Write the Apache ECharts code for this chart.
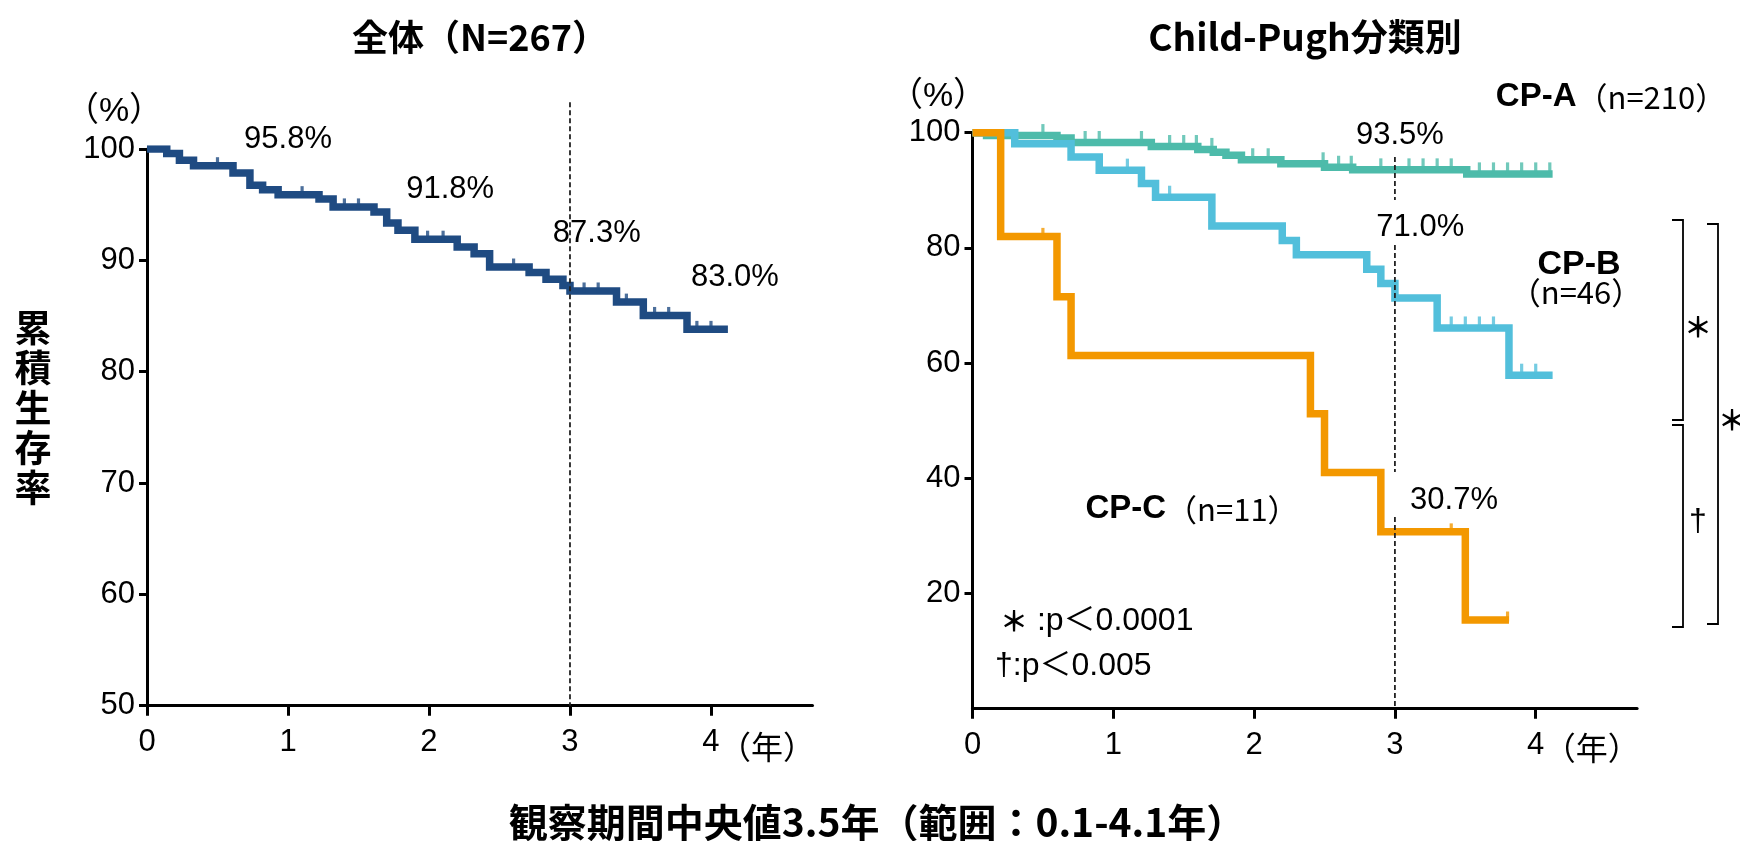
<!DOCTYPE html>
<html><head><meta charset="utf-8">
<script src="https://cdn.jsdelivr.net/npm/echarts@6/dist/echarts.min.js"></script>
<style>html,body{margin:0;padding:0;background:#fff}#c{width:1740px;height:841px}</style>
</head><body><div id="c"></div>
<script>
// ---------- data ----------
const xTicks = [0, 1, 2, 3, 4];
const leftYTicks = [50, 60, 70, 80, 90, 100];
const rightYTicks = [20, 40, 60, 80, 100];

// Overall (N=267)
const allTimes = [0, 0.14, 0.23, 0.33, 0.61, 0.73, 0.82, 0.93, 1.22, 1.32, 1.61, 1.70, 1.78, 1.90, 2.20, 2.32, 2.43, 2.71, 2.83, 2.95, 3.00, 3.33, 3.52, 3.83, 4.12];
const allSurv  = [100, 99.6, 99.0, 98.5, 97.85, 96.75, 96.35, 95.9, 95.5, 94.8, 94.35, 93.35, 92.7, 91.9, 91.2, 90.6, 89.4, 88.9, 88.3, 87.75, 87.25, 86.25, 85.05, 83.8, 83.8];
const allCensor = [0.5, 1.1, 1.4, 1.5, 1.99, 2.1, 2.6, 3.1, 3.2, 3.4, 3.6, 3.7, 3.9, 4.0];
const allLabels = ['95.8%', '91.8%', '87.3%', '83.0%'];

// CP-A (n=210)
const cpaTimes = [0, 0.10, 0.60, 0.70, 1.27, 1.60, 1.71, 1.80, 1.91, 2.19, 2.50, 2.70, 3.51, 4.12];
const cpaSurv  = [100, 99.5, 99.1, 98.3, 97.6, 97.1, 96.6, 96.1, 95.3, 94.6, 94.0, 93.55, 92.85, 92.85];
const cpaCensor = [0.5, 0.8, 0.9, 1.2, 1.4, 1.5, 1.59, 1.7, 1.99, 2.1, 2.49, 2.6, 2.69, 2.9, 3.1, 3.2, 3.3, 3.4, 3.6, 3.7, 3.8, 3.9, 4.0, 4.1];
// CP-B (n=46)
const cpbTimes = [0, 0.30, 0.70, 0.90, 1.20, 1.30, 1.70, 2.20, 2.30, 2.80, 2.90, 3.00, 3.30, 3.81, 4.12];
const cpbSurv  = [100, 98.1, 95.8, 93.5, 91.2, 88.8, 83.8, 81.3, 78.8, 76.3, 73.8, 71.3, 66.1, 57.9, 57.9];
const cpbCensor = [1.1, 1.4, 3.4, 3.5, 3.6, 3.7, 3.9, 4.0];
// CP-C (n=11)
const cpcTimes = [0, 0.20, 0.60, 0.70, 2.40, 2.50, 2.90, 3.50, 3.81];
const cpcSurv  = [100, 82.0, 71.5, 61.3, 51.2, 41.0, 30.7, 15.4, 15.4];
const cpcCensor = [0.5, 3.4, 3.8];
const cpLabels = ['93.5%', '71.0%', '30.7%'];

// ---------- helpers ----------
const NUM = "'Liberation Sans', 'Noto Sans CJK JP', sans-serif";
const NS = 31;
const CJK = "'Noto Sans CJK JP', sans-serif";

function km(times, surv) { return times.map((t, i) => [t, surv[i]]); }
function censorPts(times, surv, cens) {
  return cens.map(c => { let v = surv[0]; for (let i = 0; i < times.length; i++) if (times[i] <= c) v = surv[i]; return [c, v]; });
}
const C_ALL = '#1f4b82', C_A = '#4dbbaa', C_B = '#52bfdb', C_C = '#f39800';
function stepSeries(name, data, color, gi) {
  return { name, type: 'line', step: 'end', data, xAxisIndex: gi, yAxisIndex: gi, symbol: 'none', showSymbol: false,
    lineStyle: { color, width: 7.5, join: 'miter', cap: 'butt' }, animation: false, silent: true, z: 3 };
}
function censorSeries(data, color, gi, h, off) {
  return { type: 'scatter', data, xAxisIndex: gi, yAxisIndex: gi, symbol: 'rect', symbolSize: [3.2, h], symbolOffset: [0, off],
    itemStyle: { color }, animation: false, silent: true, z: 4 };
}
function xAxis(gi) {
  return { gridIndex: gi, type: 'value', min: 0, max: 4.72,
    axisLine: { show: true, onZero: false, lineStyle: { color: '#000', width: 3 } },
    axisTick: { show: true, length: 10, customValues: xTicks, lineStyle: { color: '#000', width: 3 } },
    axisLabel: { customValues: xTicks, fontSize: NS, color: '#000', fontFamily: NUM, margin: 21 },
    splitLine: { show: false } };
}
function yAxis(gi, min, max, interval, ticks) {
  return { gridIndex: gi, type: 'value', min, max, interval,
    axisLine: { show: true, onZero: false, lineStyle: { color: '#000', width: 3 } },
    axisTick: { show: true, length: 8, customValues: ticks, lineStyle: { color: '#000', width: 3 } },
    axisLabel: { customValues: ticks, fontSize: NS, color: '#000', fontFamily: NUM, margin: 12 },
    splitLine: { show: false } };
}

const chart = echarts.init(document.getElementById('c'), null, { renderer: 'canvas' });
chart.setOption({
  backgroundColor: '#fff',
  animation: false,
  grid: [
    { left: 147, top: 149, width: 665.5, height: 556.7 },
    { left: 972.5, top: 132.7, width: 664.6, height: 576 }
  ],
  xAxis: [xAxis(0), xAxis(1)],
  yAxis: [yAxis(0, 50, 100, 10, leftYTicks), yAxis(1, 0, 100, 20, rightYTicks)],
  series: [
    stepSeries('全体', km(allTimes, allSurv), C_ALL, 0),
    censorSeries(censorPts(allTimes, allSurv, allCensor), C_ALL, 0, 10, -3.5),
    stepSeries('CP-A', km(cpaTimes, cpaSurv), C_A, 1),
    censorSeries(censorPts(cpaTimes, cpaSurv, cpaCensor), C_A, 1, 13, -5),
    stepSeries('CP-B', km(cpbTimes, cpbSurv), C_B, 1),
    censorSeries(censorPts(cpbTimes, cpbSurv, cpbCensor), C_B, 1, 13, -5),
    stepSeries('CP-C', km(cpcTimes, cpcSurv), C_C, 1),
    censorSeries(censorPts(cpcTimes, cpcSurv, cpcCensor), C_C, 1, 10, -3.5)
  ]
});

const P0 = (x, y) => chart.convertToPixel({ gridIndex: 0 }, [x, y]);
const P1 = (x, y) => chart.convertToPixel({ gridIndex: 1 }, [x, y]);
function T(pt, text, opt) {
  return { type: 'text', x: pt[0], y: pt[1], z: 10, silent: true,
    style: Object.assign({ text, fill: '#000', align: 'center', verticalAlign: 'middle', fontFamily: NUM, fontSize: NS }, opt || {}) };
}
function dash(a, b) {
  return { type: 'line', z: 5, silent: true, shape: { x1: a[0], y1: a[1], x2: b[0], y2: b[1] },
    style: { stroke: '#222', lineWidth: 1.8, lineDash: [5, 3] } };
}
function bracket(pts) {
  return { type: 'polyline', z: 5, silent: true, shape: { points: pts }, style: { stroke: '#000', lineWidth: 1.8, fill: null } };
}

const g = [];
// titles
g.push(T([480, 37], '全体（N=267）', { fontFamily: CJK, fontWeight: 'bold', fontSize: 36 }));
g.push(T([1305, 37], 'Child-Pugh分類別', { fontFamily: CJK, fontWeight: 'bold', fontSize: 37 }));
g.push(T([33, 408], '累\n積\n生\n存\n率', { fontFamily: CJK, fontWeight: 'bold', fontSize: 37, lineHeight: 40 }));
g.push(T([877, 822], '観察期間中央値3.5年（範囲：0.1-4.1年）', { fontFamily: CJK, fontWeight: 'bold', fontSize: 39 }));
// unit labels
g.push(T([114, 112], '（%）', { fontSize: 34 }));
g.push(T([938, 97], '（%）', { fontSize: 34 }));
const y0 = P0(4, 50), y1 = P1(4, 0);
g.push(T([y0[0] + 8, y0[1] + 41], '（年）', { fontFamily: CJK, fontSize: 32, align: 'left' }));
g.push(T([y1[0] + 8, y1[1] + 39], '（年）', { fontFamily: CJK, fontSize: 32, align: 'left' }));
// dashed reference lines at 3 years
g.push(dash(P0(3, 104.2), P0(3, 50)));
g.push(dash(P1(3, 95.8), P1(3, 88.3)));
g.push(dash(P1(3, 80.5), P1(3, 41.1)));
g.push(dash(P1(3, 33.3), P1(3, 0)));
// survival labels
const leftAnchors = [[1.0, 100.9], [2.15, 96.4], [3.19, 92.45], [4.17, 88.5]];
allLabels.forEach((s, i) => g.push(T(P0(leftAnchors[i][0], leftAnchors[i][1]), s)));
const rightAnchors = [[3.035, 99.6], [3.18, 83.6], [3.42, 36.2]];
cpLabels.forEach((s, i) => g.push(T(P1(rightAnchors[i][0], rightAnchors[i][1]), s)));
// group labels
const rich = { b: { fontFamily: NUM, fontWeight: 'bold', fontSize: 33, fill: '#000' }, r: { fontFamily: CJK, fontSize: 31, fill: '#000' } };
g.push(T([1611, 97], '{b|CP-A}{r|（n=210）}', { rich }));
g.push(T([1579, 265], 'CP-B', { fontWeight: 'bold', fontSize: 34 }));
g.push(T([1576, 292], '（n=46）', { fontFamily: CJK, fontSize: 31 }));
g.push(T([1192, 509], '{b|CP-C}{r|（n=11）}', { rich }));
// p values
g.push(T([1000, 621], '{s|＊}{t| :p＜0.0001}', { align: 'left', rich: {
  s: { fontFamily: CJK, fontWeight: 'bold', fontSize: 28, fill: '#000' }, t: { fontFamily: NUM, fontSize: 32, fill: '#000' } } }));
g.push(T([995, 666], '†:p＜0.005', { align: 'left', fontSize: 32 }));
// brackets
g.push(bracket([[1672, 220], [1683, 220], [1683, 420], [1672, 420]]));
g.push(bracket([[1672, 425], [1683, 425], [1683, 627], [1672, 627]]));
g.push(bracket([[1707, 224], [1718, 224], [1718, 624], [1707, 624]]));
g.push(T([1698, 327], '＊', { fontFamily: CJK, fontWeight: 'bold', fontSize: 28 }));
g.push(T([1698, 522], '†', { fontSize: 32 }));
g.push(T([1732, 420], '＊', { fontFamily: CJK, fontWeight: 'bold', fontSize: 28 }));

chart.setOption({ graphic: g });
</script></body></html>
